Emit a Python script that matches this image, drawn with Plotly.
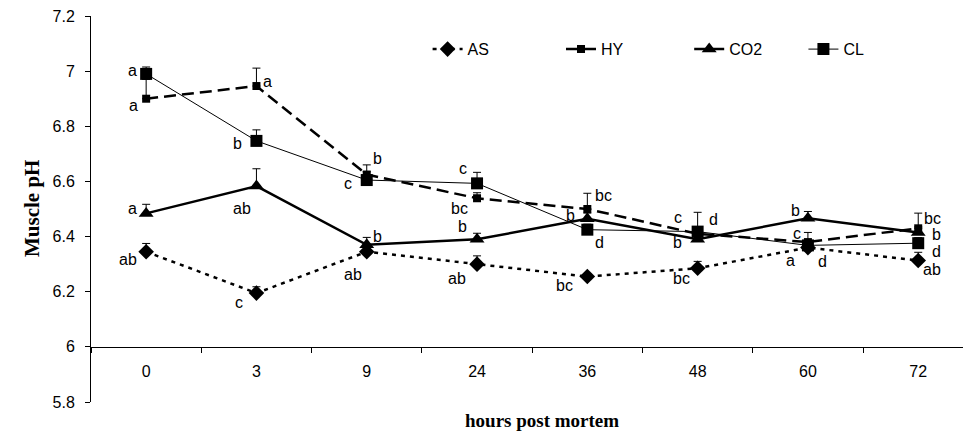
import plotly.graph_objects as go

hours = ["0", "3", "9", "24", "36", "48", "60", "72"]

AS = [6.345, 6.195, 6.345, 6.30, 6.255, 6.285, 6.36, 6.313]
HY = [6.90, 6.946, 6.625, 6.539, 6.50, 6.41, 6.38, 6.43]
CO2 = [6.484, 6.583, 6.37, 6.39, 6.465, 6.39, 6.466, 6.415]
CL = [6.99, 6.747, 6.605, 6.593, 6.425, 6.418, 6.368, 6.376]

AS_err = [0.03, 0.023, 0.02, 0.03, 0.01, 0.025, 0.02, 0.03]
HY_err = [0.07, 0.065, 0.035, 0.02, 0.057, 0.02, 0.035, 0.055]
CO2_err = [0.033, 0.063, 0.027, 0.022, 0.02, 0.02, 0.025, 0.02]
CL_err = [0.025, 0.04, 0.03, 0.04, 0.02, 0.07, 0.015, 0.02]

AS_letters = ["ab", "c", "ab", "ab", "bc", "bc", "a", "ab"]
HY_letters = ["a", "a", "b", "bc", "bc", "c", "c", "bc"]
CO2_letters = ["a", "ab", "b", "b", "b", "b", "b", "b"]
CL_letters = ["a", "b", "c", "c", "d", "d", "d", "d"]

y_ticks = [5.8, 6.0, 6.2, 6.4, 6.6, 6.8, 7.0, 7.2]

# label offsets (pixels) relative to each point
AS_off = [(-18, -8), (-17, -9), (-14, -23), (-20, -14), (-23, -9), (-16, -10), (-17, -13), (14, -9)]
HY_off = [(-13, -7), (11, 5), (11, 16), (-18, -10), (16, 14), (-20, 16), (-11, 9), (14, 10)]
CO2_off = [(-14, 5), (-14, -22), (11, 8), (-15, 13), (-17, 3), (-20, -3), (-12, 8), (18, -2)]
CL_off = [(-14, 3), (-19, -3), (-19, -3), (-14, 15), (12, -13), (16, 12), (15, -16), (18, -8)]

FONT = "Liberation Sans, Arial, sans-serif"
SERIF = "Liberation Serif, Times New Roman, serif"

fig = go.Figure()


def err(a):
    return dict(type="data", symmetric=False, array=a, arrayminus=[0] * len(a),
                color="black", thickness=1, width=4)


fig.add_trace(go.Scatter(x=hours, y=AS, name="AS", mode="lines+markers",
                         line=dict(color="black", width=2.5, dash="4px,5px"),
                         marker=dict(symbol="diamond", size=12, color="black"),
                         error_y=err(AS_err), legend="legend"))
fig.add_trace(go.Scatter(x=hours, y=HY, name="HY", mode="lines+markers",
                         line=dict(color="black", width=2.5, dash="12px,6px"),
                         marker=dict(symbol="square", size=8, color="black"),
                         error_y=err(HY_err), legend="legend2"))
fig.add_trace(go.Scatter(x=hours, y=CO2, name="CO2", mode="lines+markers",
                         line=dict(color="black", width=2.5),
                         marker=dict(symbol="triangle-up", size=13, color="black"),
                         error_y=err(CO2_err), legend="legend3"))
fig.add_trace(go.Scatter(x=hours, y=CL, name="CL", mode="lines+markers",
                         line=dict(color="black", width=1),
                         marker=dict(symbol="square", size=12, color="black"),
                         error_y=err(CL_err), legend="legend4"))

for vals, letters, offs in [(AS, AS_letters, AS_off), (HY, HY_letters, HY_off),
                            (CO2, CO2_letters, CO2_off), (CL, CL_letters, CL_off)]:
    for i, (v, t, (dx, dy)) in enumerate(zip(vals, letters, offs)):
        fig.add_annotation(x=i, y=v, text=t, showarrow=False, xshift=dx, yshift=dy,
                           font=dict(family=FONT, size=16, color="black"))

fig.add_annotation(x=0, xref="paper", y=0.5, yref="paper", text="<b>Muscle pH</b>",
                   textangle=-90, showarrow=False, xshift=-73,
                   font=dict(family=SERIF, size=21, color="black"))
fig.add_annotation(x=0.517, xref="paper", y=0, yref="paper", yanchor="top",
                   text="<b>hours post mortem</b>", showarrow=False, yshift=-6,
                   font=dict(family=SERIF, size=19, color="black"))

ymin, ymax = 5.8, 7.2
leg = dict(orientation="h", yanchor="middle", y=0.914, xanchor="left",
           font=dict(family=FONT, size=16, color="black"), bgcolor="rgba(0,0,0,0)")
fig.update_layout(
    width=963, height=432,
    margin=dict(l=91, r=0, t=16, b=30),
    plot_bgcolor="white", paper_bgcolor="white",
    showlegend=True,
    legend=dict(leg, x=0.386),
    legend2=dict(leg, x=0.539),
    legend3=dict(leg, x=0.686),
    legend4=dict(leg, x=0.817),
    xaxis=dict(type="category", range=[-0.5, 7.406], anchor="free",
               position=(6.0 - ymin) / (ymax - ymin),
               showline=True, linecolor="black", linewidth=1,
               ticks="outside", tickson="boundaries", ticklen=5, tickcolor="black",
               ticklabelstandoff=10,
               showgrid=False, zeroline=False,
               tickfont=dict(family=FONT, size=16, color="black")),
    yaxis=dict(range=[ymin, ymax], tickvals=y_ticks, showline=True, linecolor="black",
               linewidth=1, ticks="outside", ticklen=5, tickcolor="black",
               ticklabelstandoff=7,
               showgrid=False, zeroline=False,
               tickfont=dict(family=FONT, size=16, color="black")),
)

fig.write_html("out.html", post_script="document.body.style.margin='0';",
               config={"displayModeBar": False})
